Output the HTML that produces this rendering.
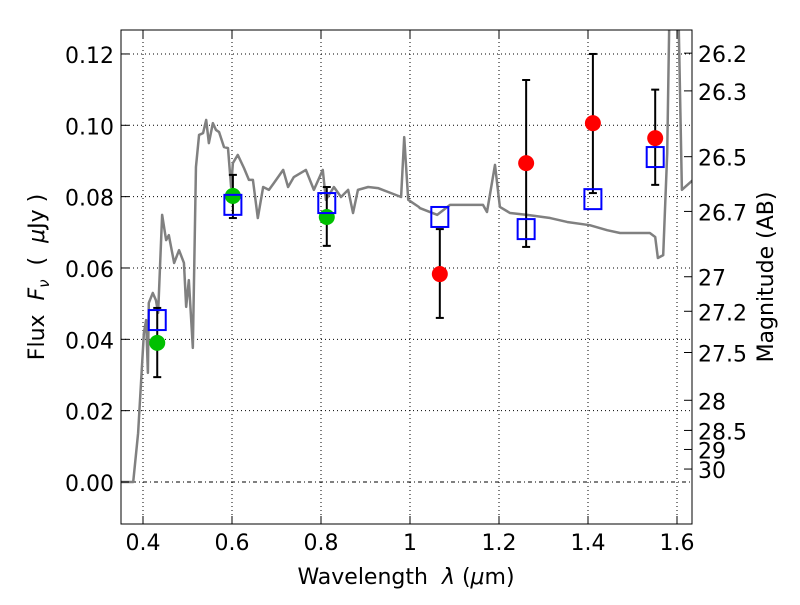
<!DOCTYPE html>
<html><head><meta charset="utf-8"><style>
body{margin:0;background:#fff;}
svg{font-family:"DejaVu Sans","Liberation Sans",sans-serif;}
</style></head><body>
<svg id="chart" width="800" height="600" xmlns="http://www.w3.org/2000/svg">
<defs><clipPath id="clip"><rect x="121" y="30" width="571" height="494"/></clipPath></defs>
<rect width="800" height="600" fill="#fff"/>
<g id="grid"></g>
<g id="plot" clip-path="url(#clip)"></g>
<rect x="121" y="30" width="571" height="494" fill="none" stroke="#000" stroke-width="1"/>
<g id="axes"></g>
<text x="406" y="584" text-anchor="middle" font-size="22">Wavelength&#160;&#160;<tspan font-style="italic">λ</tspan>&#160;(<tspan font-style="italic">μ</tspan>m)</text>
<text transform="translate(44,277) rotate(-90)" text-anchor="middle" font-size="22">Flux&#160;&#160;<tspan font-style="italic">F</tspan><tspan font-style="italic" font-size="15" dy="5">ν</tspan><tspan dy="-5">&#160;&#160;(&#160;&#160;</tspan><tspan font-style="italic">μ</tspan>Jy )</text>
<text transform="translate(773,277) rotate(-90)" text-anchor="middle" font-size="22">Magnitude (AB)</text>
</svg>
<script>
const xTicks=[0.4,0.6,0.8,1.0,1.2,1.4,1.6];
const xTickLabels=["0.4","0.6","0.8","1","1.2","1.4","1.6"];
const yTicks=[0,0.02,0.04,0.06,0.08,0.10,0.12];
const yTickLabels=["0.00","0.02","0.04","0.06","0.08","0.10","0.12"];
const magTicks=[26.2,26.3,26.5,26.7,27,27.2,27.5,28,28.5,29,30];
const specWl=[0.351,0.378,0.389,0.402,0.407,0.411,0.413,0.422,0.429,0.434,0.443,0.452,0.458,0.470,0.481,0.492,0.497,0.503,0.512,0.519,0.526,0.535,0.542,0.548,0.557,0.564,0.571,0.582,0.591,0.598,0.602,0.613,0.627,0.638,0.647,0.658,0.670,0.683,0.694,0.715,0.726,0.739,0.766,0.784,0.804,0.811,0.829,0.845,0.861,0.872,0.883,0.906,0.928,0.951,0.980,0.987,0.996,1.020,1.022,1.061,1.090,1.128,1.164,1.173,1.191,1.202,1.225,1.263,1.315,1.353,1.404,1.443,1.472,1.539,1.551,1.557,1.569,1.578,1.584,1.602,1.611,1.636];
const specFlux=[0,0,0.0137,0.0418,0.0454,0.0306,0.0502,0.0530,0.0510,0.0474,0.0749,0.0678,0.0692,0.0614,0.0650,0.0614,0.0491,0.0566,0.0376,0.0883,0.0973,0.0978,0.1015,0.0950,0.1006,0.0987,0.0981,0.0939,0.0936,0.0827,0.0894,0.0917,0.0880,0.0847,0.0847,0.0740,0.0827,0.0819,0.0838,0.0875,0.0827,0.0855,0.0875,0.0819,0.0875,0.0791,0.0827,0.0799,0.0819,0.0754,0.0819,0.0827,0.0824,0.0813,0.0799,0.0967,0.0791,0.0771,0.0768,0.0749,0.0777,0.0777,0.0777,0.0757,0.0889,0.0771,0.0754,0.0749,0.0740,0.0729,0.0720,0.0706,0.0698,0.0698,0.0687,0.0628,0.0636,0.0922,0.14,0.14,0.0819,0.0847];
const modelWl=[0.432,0.602,0.813,1.067,1.261,1.411,1.551];
const modelFlux=[0.0454,0.0777,0.0782,0.0743,0.0709,0.0793,0.0911];
const greenWl=[0.432,0.602,0.813];
const greenFlux=[0.039,0.0802,0.0743];
const greenLo=[0.0294,0.074,0.0662];
const greenHi=[0.0488,0.0861,0.0827];
const redWl=[1.067,1.261,1.411,1.551];
const redFlux=[0.0583,0.0894,0.1006,0.0964];
const redLo=[0.046,0.0659,0.081,0.0833];
const redHi=[0.0709,0.1127,0.120,0.110];

const NS="http://www.w3.org/2000/svg";
const X=v=>143+(v-0.4)*445;
const Y=f=>482-f*3567;
function mk(parent,tag,attrs){const e=document.createElementNS(NS,tag);for(const k in attrs)e.setAttribute(k,attrs[k]);parent.appendChild(e);return e;}
const grid=document.getElementById('grid'),plot=document.getElementById('plot'),axes=document.getElementById('axes');
xTicks.forEach((t,i)=>{
  const g=mk(grid,'line',{x1:X(t),x2:X(t),y1:30,y2:524,stroke:'#000','stroke-width':1,'stroke-dasharray':'1,3'});
  
  
  mk(axes,'line',{x1:X(t),x2:X(t),y1:524,y2:516,stroke:'#000'});
  mk(axes,'line',{x1:X(t),x2:X(t),y1:30,y2:38,stroke:'#000'});
  const l=mk(axes,'text',{x:X(t),y:550,'text-anchor':'middle','font-size':22});
  l.textContent=xTickLabels[i];
  
  
});
yTicks.forEach((t,i)=>{
  const g=mk(grid,'line',{x1:121,x2:692,y1:Y(t),y2:Y(t),stroke:'#000','stroke-width':1,'stroke-dasharray':t===0?'4,3,1,3':'1,3'});
  
  
  mk(axes,'line',{x1:121,x2:129,y1:Y(t),y2:Y(t),stroke:'#000'});
  const l=mk(axes,'text',{x:114,y:Y(t)+9,'text-anchor':'end','font-size':22});
  l.textContent=yTickLabels[i];
  
  
});
magTicks.forEach(m=>{
  const f=Math.pow(10,(23.9-m)/2.5);
  mk(axes,'line',{x1:684,x2:692,y1:Y(f),y2:Y(f),stroke:'#000'});
  const l=mk(axes,'text',{x:698,y:Y(f)+9,'font-size':22});
  l.textContent=String(m);
  
  
});
const sp=mk(plot,'polyline',{points:specWl.map((w,i)=>X(w)+','+Y(specFlux[i])).join(' '),fill:'none',stroke:'#808080','stroke-width':2.5,'stroke-linejoin':'round'});


function errbar(w,lo,hi){
  const x=X(w);
  mk(plot,'line',{x1:x,x2:x,y1:Y(lo),y2:Y(hi),stroke:'#000','stroke-width':2});
  mk(plot,'line',{x1:x-4,x2:x+4,y1:Y(lo),y2:Y(lo),stroke:'#000','stroke-width':2});
  mk(plot,'line',{x1:x-4,x2:x+4,y1:Y(hi),y2:Y(hi),stroke:'#000','stroke-width':2});
}
greenWl.forEach((w,i)=>errbar(w,greenLo[i],greenHi[i]));
redWl.forEach((w,i)=>errbar(w,redLo[i],redHi[i]));
greenWl.forEach((w,i)=>{
  const c=mk(plot,'circle',{cx:X(w),cy:Y(greenFlux[i]),r:8,fill:'#00c000'});
  
  
});
redWl.forEach((w,i)=>{
  const c=mk(plot,'circle',{cx:X(w),cy:Y(redFlux[i]),r:8,fill:'#ff0000'});
  
  
});
modelWl.forEach((w,i)=>{
  const r=mk(plot,'rect',{x:X(w)-8.5,y:Y(modelFlux[i])-10,width:17,height:20,fill:'none',stroke:'#0000ff','stroke-width':2});
  
  
});
</script>
</body></html>
